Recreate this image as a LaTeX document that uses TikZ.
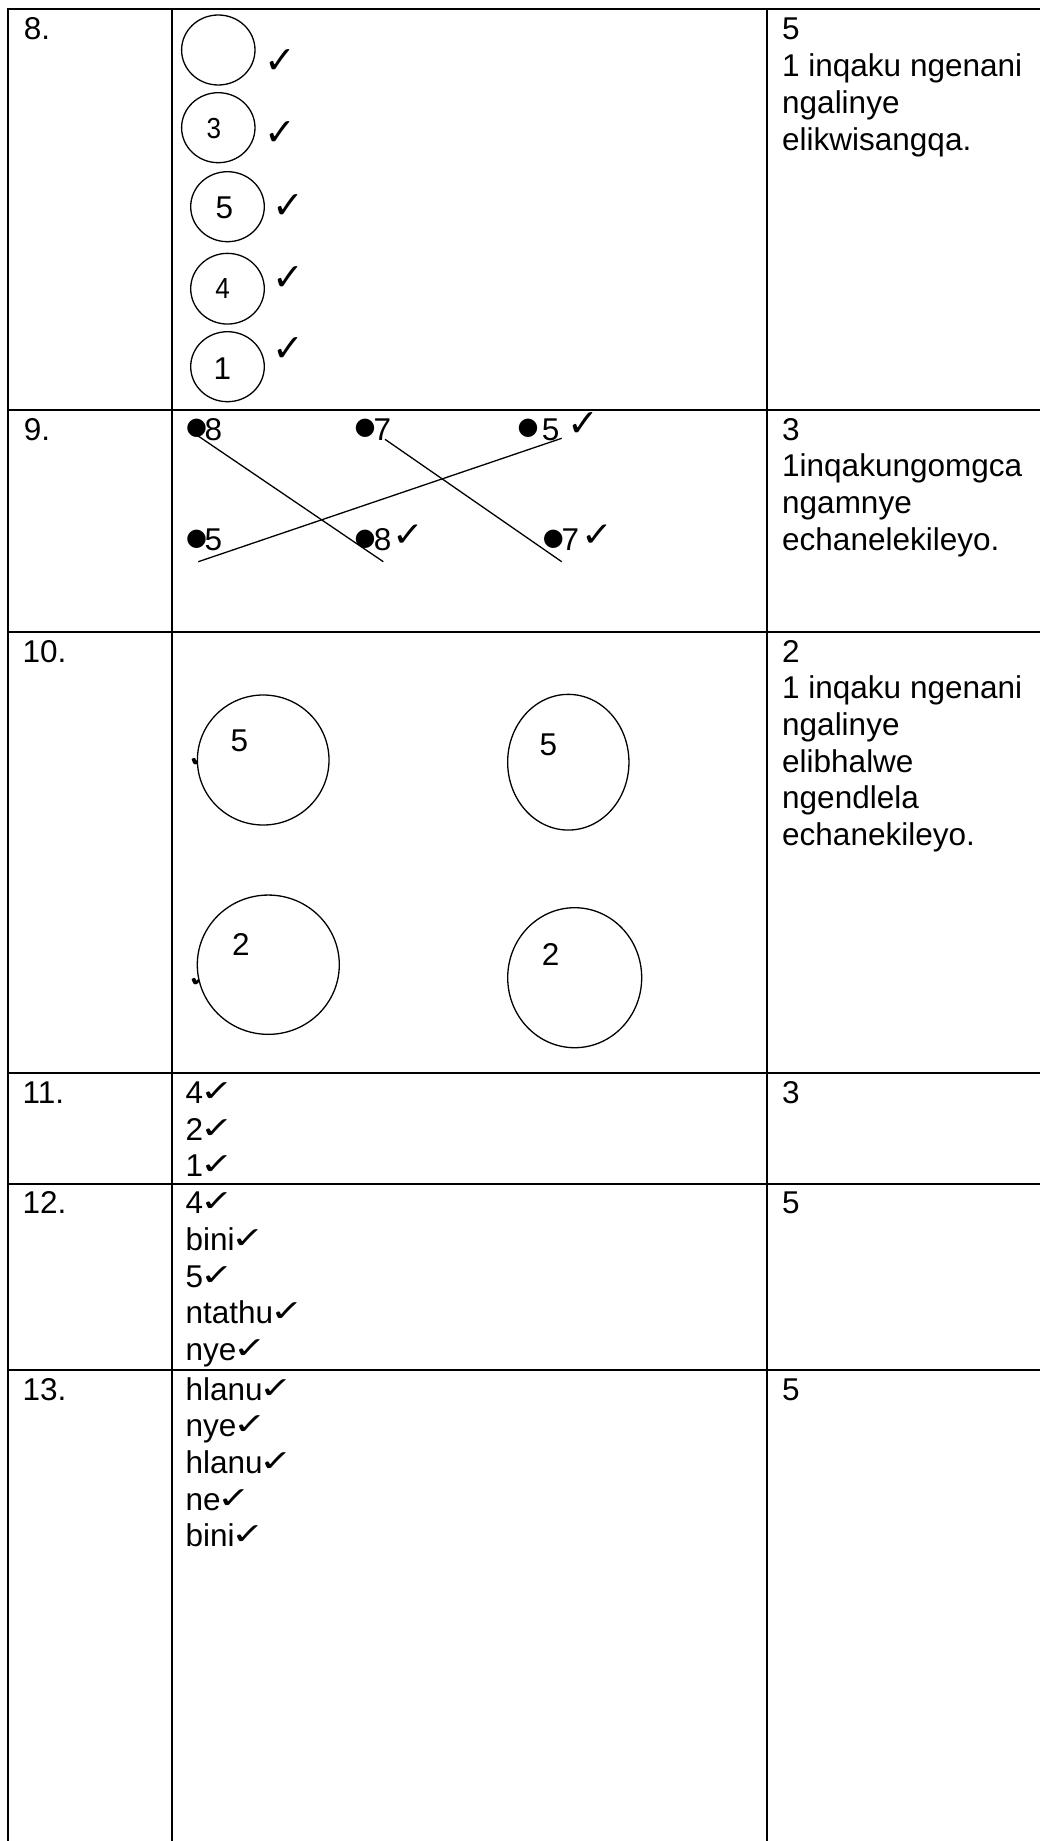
\documentclass[tikz,border=0pt]{standalone}
\usepackage{fontspec}
\usepackage{graphicx}
\setmainfont{Liberation Sans}
\newfontfamily\dv{DejaVu Sans}
\usetikzlibrary{shapes.geometric}
\newcommand\mychk{{\dv\fontsize{40}{40}\selectfont\kern-3pt\raisebox{2pt}{\scalebox{1}[0.75]{✓}}}}
\tikzset{
  txt/.style={anchor=base west, inner sep=0pt, font=\fontsize{31.5}{36.7}\selectfont},
  gridline/.style={line width=2pt, line cap=rect},
  oval/.style={draw, ellipse, inner sep=0pt, line width=1.3pt, fill=white},
  link/.style={line width=1.3pt},
  chk/.style={inner sep=0pt, font=\dv\fontsize{38}{38}\selectfont},
  bigchk/.style={inner sep=0pt, font=\dv\bfseries\fontsize{38}{38}\selectfont},
  dot/.style={inner sep=0pt, font=\dv\fontsize{24}{24}\selectfont},
  narrow/.style={inner sep=0pt, font=\fontsize{29}{29}\selectfont},
}
\begin{document}
\begin{tikzpicture}[x=1pt,y=-1pt]
\useasboundingbox (0,0) rectangle (1040,1841);
\fill[white] (0,0) rectangle (1040,1841);

% ---- grid ----
\draw[gridline] (7.5,9.5) -- (1040,9.5);
\foreach \yy in {410,632.3,1073.3,1184,1370}
  \draw[gridline] (7.5,\yy) -- (1040,\yy);
\foreach \xx in {7.5,171.7,766.7}
  \draw[gridline] (\xx,9.5) -- (\xx,1841);

% ---- column 1: numbers ----
\node[txt] (n8)  at (23.7,40)     {8.};
\node[txt] (n9)  at (23.7,440)    {9.};
\node[txt] (n10) at (22.5,662)    {10.};
\node[txt] (n11) at (22.5,1103.3) {11.};
\node[txt] (n12) at (22.5,1213.7) {12.};
\node[txt] (n13) at (22.5,1400)   {13.};

% ---- column 3: marks ----
\foreach \t [count=\i] in {5,1 inqaku ngenani,ngalinye,elikwisangqa.}
  \node[txt] (m8l\i) at (782,{40+36.7*(\i-1)}) {\t};
\foreach \t [count=\i] in {3,1inqakungomgca,ngamnye,echanelekileyo.}
  \node[txt] (m9l\i) at (782,{440+36.7*(\i-1)}) {\t};
\foreach \t [count=\i] in {2,1 inqaku ngenani,ngalinye,elibhalwe,ngendlela,echanekileyo.}
  \node[txt] (m10l\i) at (782,{662+36.7*(\i-1)}) {\t};
\node[txt] (m11) at (782,1103.3) {3};
\node[txt] (m12) at (782,1213.7) {5};
\node[txt] (m13) at (782,1400)   {5};

% ---- row 8: circles ----
\node[oval, minimum width=73.4pt, minimum height=70pt] (o1) at (218.3,50) {};
\node[oval, minimum width=73.4pt, minimum height=70pt] (o2) at (218.3,127.7) {};
\node[oval, minimum width=73.6pt, minimum height=70pt] (o3) at (227.5,206.7) {};
\node[oval, minimum width=73.6pt, minimum height=70.7pt] (o4) at (227.5,288.7) {};
\node[oval, minimum width=73.6pt, minimum height=70pt] (o5) at (227.5,366.7) {};
\node[narrow] (t2) at (214,128.3) {\scalebox{0.9}[1]{3}};
\node[txt] (t3) at (215.3,218.3) {5};
\node[narrow] (t4) at (222.7,289) {\scalebox{0.9}[1]{4}};
\node[txt] (t5) at (213.3,379) {1};
\node[bigchk] (k1) at (280,61.7) {✓};
\node[bigchk] (k2) at (280,133.3) {✓};
\node[bigchk] (k3) at (288.3,206.7) {✓};
\node[bigchk] (k4) at (288.3,278.3) {✓};
\node[bigchk] (k5) at (288.3,350) {✓};

% ---- row 9: matching ----
\node[dot] (d1) at (196.7,428.3) {●};
\node[txt] (d1t) at (204.5,440) {8};
\node[dot] (d2) at (365,428.3) {●};
\node[txt] (d2t) at (373.5,440) {7};
\node[dot] (d3) at (528,428.3) {●};
\node[txt] (d3t) at (541.7,440) {5};
\node[chk] (c3) at (583,425) {✓};
\node[dot] (d4) at (196.7,539.3) {●};
\node[txt] (d4t) at (204.5,550) {5};
\node[dot] (d5) at (365,539.3) {●};
\node[txt] (d5t) at (373.7,550) {8};
\node[chk] (c5) at (408,536) {\scalebox{1}[0.9]{✓}};
\node[dot] (d6) at (553.3,539.3) {●};
\node[txt] (d6t) at (561.5,550) {7};
\node[chk] (c6) at (597.5,536) {\scalebox{1}[0.9]{✓}};
\coordinate (l1a) at (196.7,435);
\coordinate (l1b) at (383.3,561.7);
\coordinate (l2a) at (385,439.3);
\coordinate (l2b) at (561.7,561.7);
\coordinate (l3a) at (198.3,561.7);
\coordinate (l3b) at (561.7,438.3);
\draw[link] (l1a) -- (l1b);
\draw[link] (l2a) -- (l2b);
\draw[link] (l3a) -- (l3b);

% ---- row 10: circles ----
\node[chk, anchor=south west] (h1) at (186,768) {\scalebox{1}[0.75]{✓}};
\node[chk, anchor=south west] (h2) at (186,988) {\scalebox{1}[0.75]{✓}};
\node[oval, minimum width=131.6pt, minimum height=130pt] (oa) at (263.2,760) {};
\node[oval, minimum width=142pt, minimum height=139.3pt] (ob) at (268.3,964.7) {};
\node[oval, minimum width=121.3pt, minimum height=135.7pt] (oc) at (568.3,762.2) {};
\node[oval, minimum width=134pt, minimum height=140pt] (od) at (574.7,977.7) {};
\node[txt] (ta) at (230.4,751.7) {5};
\node[txt] (tb) at (232,955) {2};
\node[txt] (tc) at (539.4,755) {5};
\node[txt] (td) at (541.7,965.7) {2};

% ---- rows 11-13: answers ----
\foreach \t [count=\i] in {4,2,1}
  \node[txt] (a11l\i) at (185.4,{1103.3+36.7*(\i-1)}) {\t\mychk};
\foreach \t [count=\i] in {4,bini,5,ntathu,nye}
  \node[txt] (a12l\i) at (185.4,{1213.7+36.7*(\i-1)}) {\t\mychk};
\foreach \t [count=\i] in {hlanu,nye,hlanu,ne,bini}
  \node[txt] (a13l\i) at (185.4,{1400+36.7*(\i-1)}) {\t\mychk};
\end{tikzpicture}
\end{document}
